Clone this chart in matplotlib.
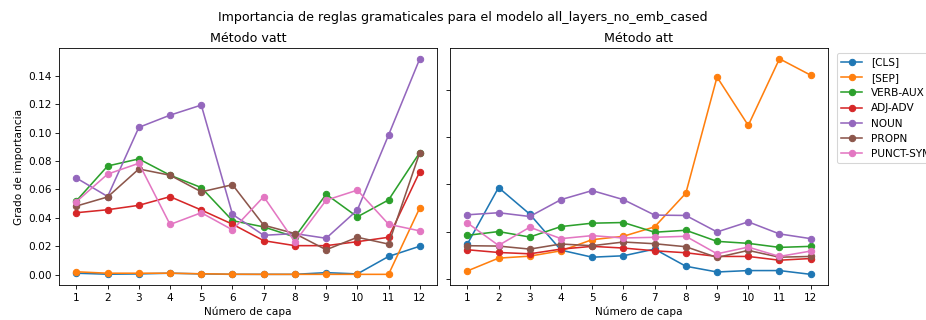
import numpy as np
import matplotlib
matplotlib.use("Agg")
import matplotlib.pyplot as plt
from matplotlib.ticker import MultipleLocator

capas = list(range(1, 13))
etiquetas = ['[CLS]', '[SEP]', 'VERB-AUX', 'ADJ-ADV', 'NOUN', 'PROPN', 'PUNCT-SYM']

# Método vatt
vatt_cls = [0.001, 0.0003, 0.0005, 0.001, 0.0005, 0.0002, 0.0002, 0.0002, 0.0014, 0.0005, 0.0128, 0.020]
vatt_sep = [0.002, 0.001, 0.001, 0.001, 0.0006, 0.0003, 0.0002, 0.0002, 0.0002, 0.0002, 0.0002, 0.047]
vatt_verb = [0.052, 0.0765, 0.0815, 0.070, 0.0613, 0.038, 0.0336, 0.0265, 0.0566, 0.0407, 0.0526, 0.086]
vatt_adj = [0.0436, 0.0457, 0.0488, 0.0549, 0.0455, 0.0355, 0.0239, 0.0204, 0.0204, 0.0232, 0.0263, 0.0725]
vatt_noun = [0.068, 0.055, 0.1037, 0.1123, 0.1194, 0.0424, 0.0277, 0.0289, 0.0256, 0.0455, 0.0983, 0.152]
vatt_propn = [0.0483, 0.0547, 0.0744, 0.070, 0.0583, 0.0633, 0.0348, 0.0289, 0.0175, 0.0263, 0.0215, 0.086]
vatt_punct = [0.0514, 0.0708, 0.0784, 0.0353, 0.0436, 0.0315, 0.0549, 0.023, 0.0524, 0.0595, 0.0355, 0.0308]

# Método att
att_cls = [0.0367, 0.0967, 0.0685, 0.0303, 0.0228, 0.0243, 0.0314, 0.0132, 0.0071, 0.0086, 0.0086, 0.0046]
att_sep = [0.0082, 0.0218, 0.0239, 0.0296, 0.0414, 0.045, 0.055, 0.0907, 0.214, 0.1627, 0.2334, 0.216]
att_verb = [0.046, 0.050, 0.0442, 0.0553, 0.0589, 0.0596, 0.0493, 0.0514, 0.0396, 0.0375, 0.0332, 0.0343]
att_adj = [0.0307, 0.0278, 0.0264, 0.0314, 0.0343, 0.0325, 0.0296, 0.0275, 0.0236, 0.0236, 0.0196, 0.0214]
att_noun = [0.0678, 0.070, 0.066, 0.0839, 0.0935, 0.0839, 0.0675, 0.0671, 0.0496, 0.0603, 0.0475, 0.0425]
att_propn = [0.035, 0.0346, 0.0314, 0.0368, 0.035, 0.0389, 0.0371, 0.0339, 0.0225, 0.030, 0.0228, 0.0236]
att_punct = [0.0592, 0.0353, 0.0546, 0.0425, 0.0457, 0.0432, 0.0439, 0.045, 0.0264, 0.0335, 0.0236, 0.0293]

vatt = [vatt_cls, vatt_sep, vatt_verb, vatt_adj, vatt_noun, vatt_propn, vatt_punct]
att = [att_cls, att_sep, att_verb, att_adj, att_noun, att_propn, att_punct]

fig, (ax1, ax2) = plt.subplots(1, 2, figsize=(926 / 76, 320 / 76), dpi=76)
fig.subplots_adjust(left=0.064, right=0.894, bottom=0.109, top=0.85, wspace=0.035)

for serie, nombre in zip(vatt, etiquetas):
    ax1.plot(capas, serie, marker='o', label=nombre)
for serie, nombre in zip(att, etiquetas):
    ax2.plot(capas, serie, marker='o', label=nombre)

ax1.set_title('Método vatt')
ax2.set_title('Método att')
ax1.set_xticks(capas)
ax2.set_xticks(capas)
ax1.yaxis.set_major_locator(MultipleLocator(0.02))
ax2.yaxis.set_major_locator(MultipleLocator(0.05))
ax1.set_xlabel('Número de capa')
ax2.set_xlabel('Número de capa')
ax1.set_ylabel('Grado de importancia')
ax2.set_yticklabels([])
ax2.legend(loc='upper left', bbox_to_anchor=(1.01, 1.0))
fig.suptitle('Importancia de reglas gramaticales para el modelo all_layers_no_emb_cased', y=0.965)

fig.savefig('out.png')
